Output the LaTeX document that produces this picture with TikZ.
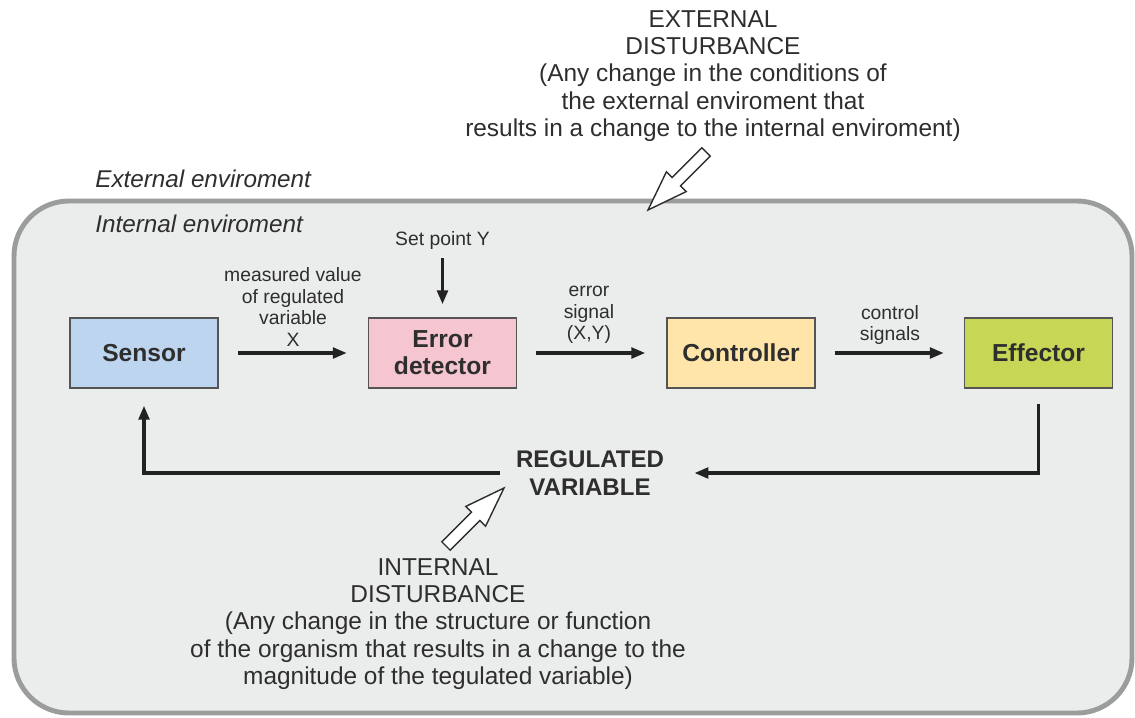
\documentclass[tikz,border=0pt]{standalone}
\usepackage{fontspec}
\setmainfont{Liberation Sans}
\usetikzlibrary{arrows.meta}
\definecolor{envfill}{HTML}{EBECEC}
\definecolor{envline}{HTML}{9B9C9C}
\definecolor{txt}{HTML}{2E2E2E}
\definecolor{boxline}{HTML}{555555}
\definecolor{senscol}{HTML}{BDD5EF}
\definecolor{errcol}{HTML}{F5C6D0}
\definecolor{ctrlcol}{HTML}{FFE5A9}
\definecolor{effcol}{HTML}{C8D655}
\definecolor{arr}{HTML}{222222}
\begin{document}
\begin{tikzpicture}[x=0.02cm,y=-0.02cm,
  box/.style={draw=boxline, line width=0.7pt, minimum width=2.96cm, minimum height=1.4cm,
    inner sep=0pt, align=center, text=txt, font=\fontsize{14}{15.3}\selectfont\bfseries},
  big/.style={font=\fontsize{13.9}{15.6}\selectfont, text=txt, align=center, inner sep=0pt},
  small/.style={font=\fontsize{11}{12.3}\selectfont, text=txt, align=center, inner sep=0pt},
  envlabel/.style={font=\fontsize{13.8}{16}\selectfont\itshape, text=txt, anchor=west, inner sep=0pt},
  conn/.style={line width=2.1pt, draw=arr, -{Triangle[length=8pt,width=6pt]}},
  hollow/.style={draw=txt, fill=white, line width=0.8pt, line join=miter}]
\useasboundingbox (0,0) rectangle (1135,717);
% environment
\draw[envline, fill=envfill, line width=2.8pt, rounded corners=1.1cm] (14,201) rectangle (1132,713);
\node[envlabel] (extenv) at (95,179) {External enviroment};
\node[envlabel] (intenv) at (95,224) {Internal enviroment};
% boxes
\node[box, fill=senscol] (sensor) at (144,353) {Sensor};
\node[box, fill=errcol] (err) at (442.5,353) {Error\\detector};
\node[box, fill=ctrlcol] (ctrl) at (741,353) {Controller};
\node[box, fill=effcol] (eff) at (1038.5,353) {Effector};
% setpoint
\node[small] (setpt) at (442.5,240) {Set point Y};
\draw[conn, shorten <=0.18cm, shorten >=0.26cm] (setpt) -- (err);
% forward arrows
\draw[conn, shorten <=0.38cm, shorten >=0.42cm] (sensor) -- (err);
\draw[conn, shorten <=0.38cm, shorten >=0.42cm] (err) -- (ctrl);
\draw[conn, shorten <=0.38cm, shorten >=0.40cm] (ctrl) -- (eff);
\node[small] (lab1) at (293,307) {measured value\\of regulated\\variable\\X};
\node[small] (lab2) at (589,315) {error\\signal\\(X,Y)};
\node[small] (lab3) at (890,325) {control\\signals};
% regulated variable
\node[font=\fontsize{13.7}{16}\selectfont\bfseries, text=txt, align=center, inner sep=0pt] (reg) at (590,473) {REGULATED\\VARIABLE};
\draw[conn, shorten <=0.30cm, shorten >=0.60cm] (eff.south) |- (reg.east);
\draw[conn, shorten <=0.32cm, shorten >=0.34cm] (reg.west) -| (sensor.south);
% disturbances
\node[big] (extd) at (713,76) {EXTERNAL\\DISTURBANCE\\(Any change in the conditions of\\the external enviroment that\\results in a change to the internal enviroment)};
\node[big] (intd) at (438,624) {INTERNAL\\DISTURBANCE\\(Any change in the structure or function\\of the organism that results in a change to the\\magnitude of the tegulated variable)};
% hollow arrows
\draw[hollow] (648,210) -- (666.4,171.8) -- (672.1,177.5) -- (701.8,147.8) -- (710.2,156.2) -- (680.5,185.9) -- (686.2,191.6) -- cycle;
\draw[hollow] (504,488) -- (485.6,526.2) -- (479.9,520.5) -- (450.2,550.2) -- (441.8,541.8) -- (471.5,512.1) -- (465.8,506.4) -- cycle;
\end{tikzpicture}
\end{document}
